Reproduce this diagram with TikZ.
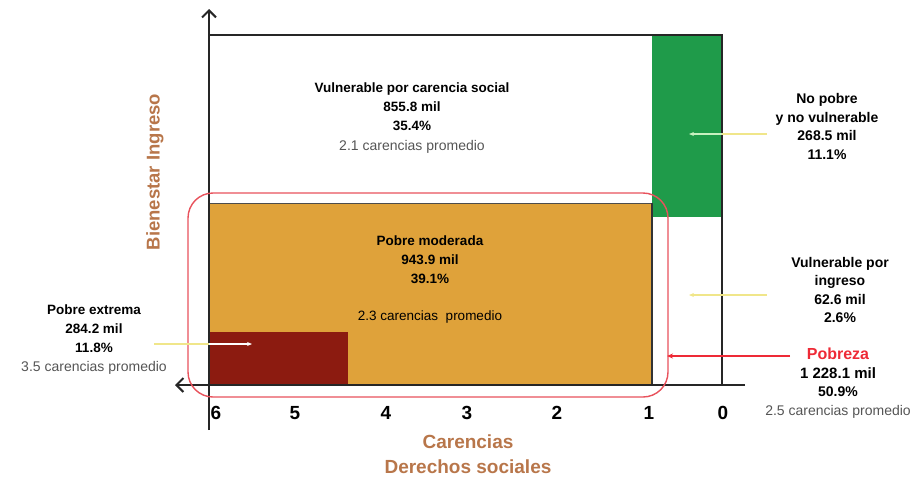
\documentclass[tikz,border=0pt]{standalone}
\usepackage{fontspec}
\setmainfont{Liberation Sans}
\usetikzlibrary{arrows.meta}
\definecolor{orangeF}{HTML}{DFA23A}
\definecolor{darkredF}{HTML}{8C1B10}
\definecolor{greenF}{HTML}{1F9B4A}
\definecolor{roundred}{HTML}{E8525C}
\definecolor{pobrezared}{HTML}{EE2A36}
\definecolor{axistitle}{HTML}{B8764A}
\definecolor{graytext}{HTML}{555555}
\definecolor{paleyellow}{HTML}{F0E68A}
\definecolor{lightgreen}{HTML}{C8F0C0}
\tikzset{
  lbl/.style={align=center, text=black, inner sep=0pt, font=\bfseries\fontsize{13.5}{19}\selectfont},
  rlbl/.style={align=center, text=black, inner sep=0pt, font=\bfseries\fontsize{14}{18.5}\selectfont},
  num/.style={font=\bfseries\fontsize{19}{22}\selectfont, inner sep=0pt},
  axtitle/.style={font=\bfseries\fontsize{19}{21}\selectfont, text=axistitle, align=center, inner sep=0pt},
  axisline/.style={line width=2pt, black!85, -{Straight Barb[length=7pt,width=14pt,line width=2pt]}},
  frameline/.style={line width=2.2pt, black!85},
  yarrow/.style={paleyellow, line width=1.2pt},
}
\newcommand{\promedio}[1]{{\mdseries\fontsize{14}{19}\selectfont\color{graytext}#1}}
\begin{document}
\begin{tikzpicture}[x=1pt,y=-1pt]
\useasboundingbox (0,0) rectangle (917,480);
% regions
\fill[greenF] (652,35) rectangle (722,217);
\fill[orangeF] (209,203) rectangle (652,385);
\fill[darkredF] (209,332) rectangle (348,385);
\draw[line width=1pt, black!70] (209,203) -- (652,203);
\draw[line width=1.5pt, black!80] (652,203) -- (652,385);
% frame
\draw[frameline] (209,35) -- (722,35) -- (722,385);
% axes
\coordinate (ybot) at (209,430);
\coordinate (ytop) at (209,9);
\coordinate (xright) at (745,385);
\coordinate (xleft) at (175,385);
\draw[axisline] (ybot) -- (ytop);
\draw[axisline, line width=2.4pt] (xright) -- (xleft);
% pobreza rounded box
\draw[roundred, line width=1.4pt, rounded corners=25pt] (188,193) rectangle (668,397);
% axis numbers
\foreach \v/\x in {6/216,5/295,4/386,3/467,2/557,1/649,0/723}
  \node[num] (n\v) at (\x,413) {\v};
% axis titles
\node[axtitle] (xt) at (468,454) {Carencias\\[4pt]Derechos sociales};
\node[font=\bfseries\fontsize{18.5}{20}\selectfont, text=axistitle, rotate=90, inner sep=0pt] (yt) at (155,172) {Bienestar Ingreso};
% labels
\node[lbl] (vcs) at (412,118.5) {Vulnerable por carencia social\\855.8 mil\\35.4\%\\[1pt]\promedio{2.1 carencias promedio}};
\node[lbl] (pm) at (430,280) {Pobre moderada\\943.9 mil\\39.1\%\\[18pt]{\mdseries\fontsize{13.5}{19}\selectfont 2.3 carencias \ promedio}};
\node[lbl] (pe) at (94,340) {Pobre extrema\\284.2 mil\\11.8\%\\\promedio{3.5 carencias promedio}};
\node[rlbl] (np) at (827,126.5) {No pobre\\y no vulnerable\\268.5 mil\\11.1\%};
\node[rlbl] (vi) at (840,290) {Vulnerable por\\ingreso\\62.6 mil\\2.6\%};
\node[rlbl] (pz) at (838,383) {{\color{pobrezared}\fontsize{16}{19}\selectfont Pobreza}\\{\fontsize{15}{19}\selectfont 1 228.1 mil}\\50.9\%\\\promedio{2.5 carencias promedio}};
% arrows
\coordinate (peA) at (154,344);
\coordinate (peB) at (209,344);
\coordinate (peC) at (252,344);
\draw[yarrow] (peA) -- (peB);
\draw[white, line width=1.2pt, -{Stealth[length=5pt,width=4pt]}] (peB) -- (peC);
\coordinate (npA) at (767,134);
\coordinate (npB) at (722,134);
\coordinate (npC) at (689,134);
\draw[yarrow] (npA) -- (npB);
\draw[lightgreen, line width=1.2pt, -{Stealth[length=5pt,width=4pt]}] (npB) -- (npC);
\coordinate (viA) at (767,295);
\coordinate (viC) at (689,295);
\draw[yarrow, -{Stealth[length=5pt,width=4pt]}] (viA) -- (viC);
\coordinate (pzA) at (790,356);
\coordinate (pzC) at (667,356);
\draw[pobrezared, line width=1.3pt, -{Stealth[length=6pt,width=5pt]}] (pzA) -- (pzC);
\end{tikzpicture}
\end{document}
